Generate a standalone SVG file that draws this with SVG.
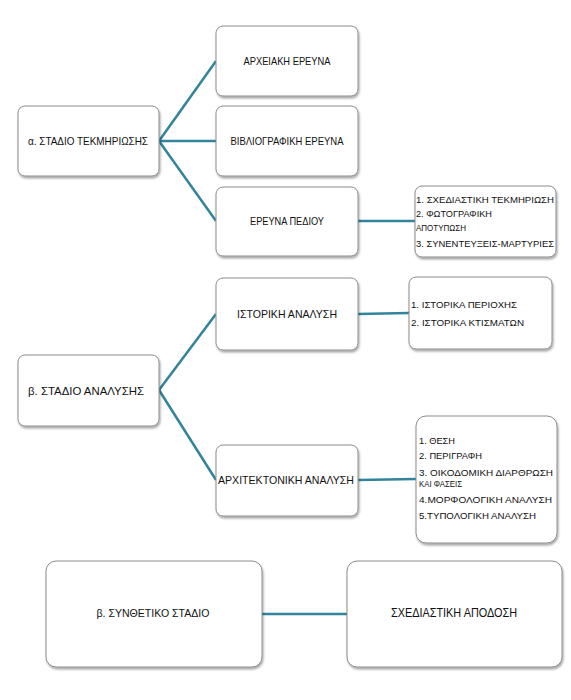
<svg xmlns="http://www.w3.org/2000/svg" width="571" height="700" viewBox="0 0 571 700">
<defs>
<filter id="sh" x="-10%" y="-10%" width="125%" height="130%">
<feDropShadow dx="1" dy="2" stdDeviation="1.3" flood-color="#000" flood-opacity="0.35"/>
</filter>
<style>
.box{fill:#fff;stroke:#8c8c8c;stroke-width:1;filter:url(#sh)}
.t{font-family:"Liberation Sans",Arial,sans-serif;font-size:10.5px;fill:#111;text-anchor:middle}
.l{font-family:"Liberation Sans",Arial,sans-serif;font-size:9.8px;fill:#111}
.c{stroke:#31849b;stroke-width:2.5;fill:none}
</style>
</defs>
<rect width="571" height="700" fill="#fff"/>
<g id="connectors">
<line class="c" x1="159" y1="141" x2="216" y2="61"/>
<line class="c" x1="159" y1="141" x2="216" y2="141"/>
<line class="c" x1="159" y1="141" x2="216" y2="221"/>
<line class="c" x1="358" y1="221" x2="415" y2="221"/>
<line class="c" x1="159" y1="390" x2="216" y2="314"/>
<line class="c" x1="159" y1="390" x2="216" y2="480"/>
<line class="c" x1="358" y1="314" x2="409" y2="313"/>
<line class="c" x1="358" y1="480" x2="416" y2="479"/>
<line class="c" x1="262" y1="614" x2="347" y2="614"/>
</g>
<g id="n-alpha"><rect class="box" x="18" y="106" width="141" height="70" rx="7"/><text class="t" x="88" y="144.5" textLength="120" lengthAdjust="spacingAndGlyphs">α. ΣΤΑΔΙΟ  ΤΕΚΜΗΡΙΩΣΗΣ</text></g>
<g id="n-archive"><rect class="box" x="216" y="26" width="142" height="70" rx="7"/><text class="t" x="287" y="64.5" textLength="87" lengthAdjust="spacingAndGlyphs">ΑΡΧΕΙΑΚΗ ΕΡΕΥΝΑ</text></g>
<g id="n-biblio"><rect class="box" x="216" y="106" width="142" height="70" rx="7"/><text class="t" x="287" y="144.5" textLength="113" lengthAdjust="spacingAndGlyphs">ΒΙΒΛΙΟΓΡΑΦΙΚΗ ΕΡΕΥΝΑ</text></g>
<g id="n-field"><rect class="box" x="216" y="187" width="142" height="69" rx="7"/><text class="t" x="287" y="224.5" textLength="74" lengthAdjust="spacingAndGlyphs">ΕΡΕΥΝΑ ΠΕΔΙΟΥ</text></g>
<g id="n-field-list"><rect class="box" x="415" y="186" width="141" height="71" rx="7"/>
<text class="l" x="416" y="202.5" textLength="138" lengthAdjust="spacingAndGlyphs">1. ΣΧΕΔΙΑΣΤΙΚΗ ΤΕΚΜΗΡΙΩΣΗ</text>
<text class="l" x="416" y="216.5" textLength="76" lengthAdjust="spacingAndGlyphs">2. ΦΩΤΟΓΡΑΦΙΚΗ</text>
<text class="l" x="416" y="230.5" textLength="50" lengthAdjust="spacingAndGlyphs">ΑΠΟΤΥΠΩΣΗ</text>
<text class="l" x="416" y="246.5" textLength="138" lengthAdjust="spacingAndGlyphs">3. ΣΥΝΕΝΤΕΥΞΕΙΣ-ΜΑΡΤΥΡΙΕΣ</text>
</g>
<g id="n-beta"><rect class="box" x="18" y="355" width="141" height="71" rx="7"/><text class="t" x="86" y="394.5" textLength="116" lengthAdjust="spacingAndGlyphs">β. ΣΤΑΔΙΟ  ΑΝΑΛΥΣΗΣ</text></g>
<g id="n-hist"><rect class="box" x="216" y="278" width="142" height="72" rx="7"/><text class="t" x="287" y="317.5" textLength="100" lengthAdjust="spacingAndGlyphs">ΙΣΤΟΡΙΚΗ ΑΝΑΛΥΣΗ</text></g>
<g id="n-hist-list"><rect class="box" x="409" y="277" width="143" height="72" rx="7"/>
<text class="l" x="411" y="307.5" textLength="106" lengthAdjust="spacingAndGlyphs">1. ΙΣΤΟΡΙΚΑ ΠΕΡΙΟΧΗΣ</text>
<text class="l" x="411" y="325.5" textLength="113" lengthAdjust="spacingAndGlyphs">2. ΙΣΤΟΡΙΚΑ ΚΤΙΣΜΑΤΩΝ</text>
</g>
<g id="n-arch"><rect class="box" x="216" y="445" width="142" height="71" rx="7"/><text class="t" x="286" y="483.5" textLength="136" lengthAdjust="spacingAndGlyphs">ΑΡΧΙΤΕΚΤΟΝΙΚΗ ΑΝΑΛΥΣΗ</text></g>
<g id="n-arch-list"><rect class="box" x="416" y="416" width="141" height="127" rx="10"/>
<text class="l" x="419" y="443.5" textLength="36" lengthAdjust="spacingAndGlyphs">1. ΘΕΣΗ</text>
<text class="l" x="419" y="458.5" textLength="63" lengthAdjust="spacingAndGlyphs">2. ΠΕΡΙΓΡΑΦΗ</text>
<text class="l" x="419" y="475.5" textLength="134" lengthAdjust="spacingAndGlyphs">3. ΟΙΚΟΔΟΜΙΚΗ ΔΙΑΡΘΡΩΣΗ</text>
<text class="l" x="419" y="486.5" textLength="43" lengthAdjust="spacingAndGlyphs">ΚΑΙ ΦΑΣΕΙΣ</text>
<text class="l" x="419" y="502.5" textLength="133" lengthAdjust="spacingAndGlyphs">4.ΜΟΡΦΟΛΟΓΙΚΗ ΑΝΑΛΥΣΗ</text>
<text class="l" x="419" y="518.5" textLength="117" lengthAdjust="spacingAndGlyphs">5.ΤΥΠΟΛΟΓΙΚΗ ΑΝΑΛΥΣΗ</text>
</g>
<g id="n-synth"><rect class="box" x="46" y="561" width="216" height="106" rx="10"/><text class="t" x="153" y="617" textLength="113" lengthAdjust="spacingAndGlyphs">β. ΣΥΝΘΕΤΙΚΟ ΣΤΑΔΙΟ</text></g>
<g id="n-design"><rect class="box" x="347" y="561" width="215" height="106" rx="10"/><text class="t" x="454" y="617" style="font-size:12px" textLength="126" lengthAdjust="spacingAndGlyphs">ΣΧΕΔΙΑΣΤΙΚΗ ΑΠΟΔΟΣΗ</text></g>
</svg>
